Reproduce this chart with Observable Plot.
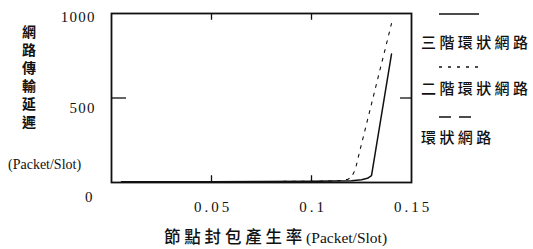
<!DOCTYPE html>
<html><head><meta charset="utf-8">
<script src="https://cdn.jsdelivr.net/npm/d3@7"></script>
<script src="https://cdn.jsdelivr.net/npm/@observablehq/plot@0.6"></script>
<style>
body{margin:0;background:#fff;}
#wrap{position:relative;width:533px;height:249px;overflow:hidden;font-family:"Noto Sans CJK TC","Noto Sans",sans-serif;color:#111;}
.abs{position:absolute;white-space:nowrap;}
.cjk{font-family:"Noto Sans CJK TC",sans-serif;font-weight:700;}
.ser{font-family:"Liberation Serif",serif;}
</style></head><body>
<div id="wrap"></div>
<script>
// Data
const series3X = [0.005, 0.05, 0.1, 0.12, 0.125, 0.128, 0.13, 0.14];
const series3Y = [4, 5, 7, 10, 16, 25, 40, 760];
const series2X = [0.005, 0.05, 0.1, 0.11, 0.115, 0.118, 0.12, 0.122, 0.124, 0.14];
const series2Y = [4, 5, 7, 9, 12, 18, 30, 80, 180, 940];
const legendLabels = ["三階環狀網路", "二階環狀網路", "環狀網路"];
const legendDash = ["none", "3,6", "12,8"];
const xTicks = [0.05, 0.1, 0.15];
const yTicks = [0, 500, 1000];
const xInnerTicks = [0.05, 0.1];
const yInnerTicks = [500];
const yTitle = "網路傳輸延遲";

const d3s = series3X.map((x, i) => ({x, y: series3Y[i]}));
const d2s = series2X.map((x, i) => ({x, y: series2Y[i]}));

const tickFont = {fontSize: 15, fontFamily: "Liberation Serif, serif"};
const chart = Plot.plot({
  width: 533, height: 249,
  marginLeft: 111, marginRight: 122, marginTop: 13, marginBottom: 67,
  x: {domain: [0, 0.15], label: null},
  y: {domain: [0, 1000], label: null},
  style: {background: "#fff", color: "#111"},
  marks: [
    Plot.axisX(xTicks, {tickSize: 0, dy: 10, label: null, ...tickFont, tickFormat: d => String(d).split("").join("\u2009")}),
    Plot.axisY([1000], {tickSize: 0, dy: 4, dx: -8, label: null, ...tickFont, tickFormat: d => String(d).split("").join("\u200A")}),
    Plot.axisY([500], {tickSize: 0, dy: 10, dx: -8, label: null, ...tickFont, tickFormat: d => String(d).split("").join("\u200A")}),
    Plot.axisY([0], {tickSize: 0, dy: 15, dx: -10, label: null, ...tickFont, tickFormat: d => String(d)}),
    Plot.ruleX(xInnerTicks, {y1: 0, y2: 40, stroke: "#111", strokeWidth: 1.3}),
    Plot.ruleX(xInnerTicks, {y1: 960, y2: 1000, stroke: "#111", strokeWidth: 1.3}),
    Plot.ruleY(yInnerTicks, {x1: 0, x2: 0.0075, stroke: "#111", strokeWidth: 1.3}),
    Plot.ruleY(yInnerTicks, {x1: 0.1445, x2: 0.15, stroke: "#111", strokeWidth: 1.3}),
    Plot.line(d2s, {x: "x", y: "y", stroke: "#111", strokeWidth: 1.1, strokeDasharray: "3,6", clip: true}),
    Plot.line(d3s, {x: "x", y: "y", stroke: "#111", strokeWidth: 1.5, clip: true}),
    Plot.frame({stroke: "#111", strokeWidth: 1.8})
  ]
});
const wrap = document.getElementById("wrap");
wrap.appendChild(chart);

// y title (vertical)
const yt = document.createElement("div");
yt.className = "abs cjk";
yt.style.cssText = "left:21px;top:25px;font-size:14px;line-height:16px;writing-mode:vertical-rl;text-orientation:upright;letter-spacing:4px;";
yt.textContent = yTitle;
wrap.appendChild(yt);
const yu = document.createElement("div");
yu.className = "abs ser";
yu.style.cssText = "left:8px;top:157px;font-size:14px;";
yu.textContent = "(Packet/Slot)";
wrap.appendChild(yu);

// x title
const xt = document.createElement("div");
xt.className = "abs";
xt.style.cssText = "left:164px;top:226px;font-size:15px;line-height:20px;";
xt.innerHTML = '<span class="cjk" style="font-size:16.5px;letter-spacing:3.8px;font-weight:500">節點封包產生率</span><span class="ser" style="font-size:15.5px">(Packet/Slot)</span>';
wrap.appendChild(xt);

// legend
const sampleTops = [14, 67, 117];
const labelTops = [31, 77, 126];
legendLabels.forEach((lab, i) => {
  const svg = d3.select(wrap).append("svg").attr("class", "abs")
    .style("left", "438px").style("top", (sampleTops[i] - 3) + "px")
    .attr("width", 42).attr("height", 6);
  svg.append("line").attr("x1", 1).attr("x2", 41).attr("y1", 3).attr("y2", 3)
    .attr("stroke", "#111").attr("stroke-width", 1.6)
    .attr("stroke-dasharray", legendDash[i] === "none" ? null : legendDash[i]);
  const t = document.createElement("div");
  t.className = "abs cjk";
  t.style.cssText = `left:421px;top:${labelTops[i]}px;font-size:15px;letter-spacing:3.4px;font-weight:500;`;
  t.textContent = lab;
  wrap.appendChild(t);
});
</script>
</body></html>
